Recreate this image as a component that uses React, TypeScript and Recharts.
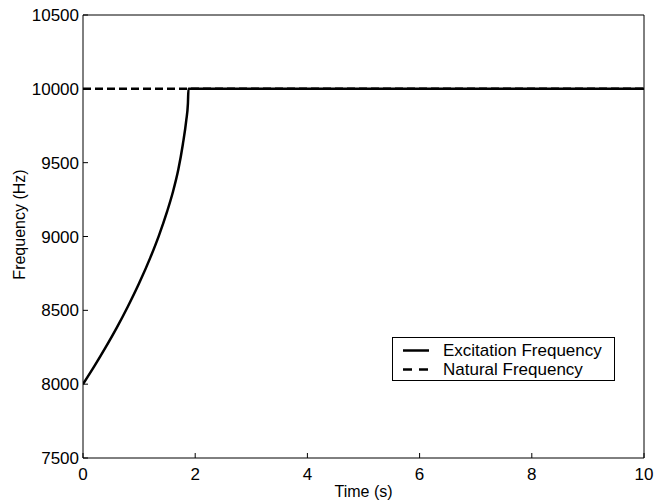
import React from 'react';
import { LineChart, Line, XAxis, YAxis, Legend } from 'recharts';

const excitationTime = [0, 0.2, 0.4, 0.6, 0.8, 1.0, 1.2, 1.35, 1.5, 1.6, 1.7, 1.78, 1.84, 1.87, 1.88, 10];
const excitationFreq = [8000, 8120, 8247, 8381, 8526, 8683, 8857, 9003, 9170, 9298, 9455, 9625, 9785, 9900, 10000, 10000];
const naturalTime = [0, 10];
const naturalFreq = [10000, 10000];
const xTicks = [0, 2, 4, 6, 8, 10];
const yTicks = [7500, 8000, 8500, 9000, 9500, 10000, 10500];

const excitationData = excitationTime.map((t, i) => ({ t, f: excitationFreq[i] }));
const naturalData = naturalTime.map((t, i) => ({ t, f: naturalFreq[i] }));

const FONT = '"Liberation Sans", Arial, Helvetica, sans-serif';
const tickStyle = { fontSize: 17, fill: '#000', fontFamily: FONT };

const YLabel = (props: any) => {
  const vb = props.viewBox || { x: 0, y: 0, width: 0, height: 0 };
  const cx = vb.x + 19;
  const cy = vb.y + vb.height / 2 - 12;
  return (
    <text
      x={cx}
      y={cy}
      transform={`rotate(-90 ${cx} ${cy})`}
      textAnchor="middle"
      dominantBaseline="central"
      fontSize={16}
      fontFamily={FONT}
      fill="#000"
    >
      {props.value}
    </text>
  );
};

const LegendContent = (props: any) => {
  const payload = props.payload || [];
  return (
    <div
      style={{
        width: 223,
        height: 44,
        boxSizing: 'border-box',
        border: '1px solid #000',
        background: '#fff',
        paddingTop: 3,
      }}
    >
      {payload.map((p: any, i: number) => (
        <div key={i} style={{ display: 'flex', alignItems: 'center', height: 19 }}>
          <svg width={50} height={19} style={{ display: 'block' }}>
            <line
              x1={10}
              x2={36}
              y1={9.5}
              y2={9.5}
              stroke="#000"
              strokeWidth={2.5}
              strokeDasharray={p.payload && p.payload.strokeDasharray ? '9 7' : undefined}
            />
          </svg>
          <span style={{ fontSize: 17, fontFamily: FONT, color: '#000', lineHeight: '19px' }}>{p.value}</span>
        </div>
      ))}
    </div>
  );
};

export default function App() {
  return (
    <div style={{ position: 'absolute', left: 0, top: 0, width: 661, height: 502, background: '#fff' }}>
      <LineChart width={661} height={502} margin={{ top: 14, right: 16, left: 0, bottom: 0 }}>
        <XAxis
          dataKey="t"
          type="number"
          domain={[0, 10]}
          ticks={xTicks}
          allowDataOverflow
          height={44}
          tick={tickStyle}
          tickSize={-5}
          tickMargin={15}
          axisLine={{ stroke: '#000', strokeWidth: 1 }}
          tickLine={{ stroke: '#000', strokeWidth: 1 }}
          label={{ value: 'Time (s)', position: 'insideBottom', offset: 5, fontSize: 16, fontFamily: FONT, fill: '#000' }}
        />
        <XAxis
          xAxisId="top"
          orientation="top"
          dataKey="t"
          type="number"
          domain={[0, 10]}
          ticks={xTicks}
          allowDataOverflow
          height={1}
          tick={false}
          tickSize={-5}
          axisLine={{ stroke: '#000', strokeWidth: 1 }}
          tickLine={{ stroke: '#000', strokeWidth: 1 }}
        />
        <YAxis
          dataKey="f"
          type="number"
          domain={[7500, 10500]}
          ticks={yTicks}
          allowDataOverflow
          width={83}
          tick={tickStyle}
          tickSize={-5}
          tickMargin={9}
          axisLine={{ stroke: '#000', strokeWidth: 1 }}
          tickLine={{ stroke: '#000', strokeWidth: 1 }}
          label={{ value: 'Frequency (Hz)', content: YLabel }}
        />
        <YAxis
          yAxisId="right"
          orientation="right"
          dataKey="f"
          type="number"
          domain={[7500, 10500]}
          ticks={yTicks}
          allowDataOverflow
          width={1}
          tick={false}
          tickSize={-5}
          axisLine={{ stroke: '#000', strokeWidth: 1 }}
          tickLine={{ stroke: '#000', strokeWidth: 1 }}
        />
        <Line
          data={excitationData}
          dataKey="f"
          name="Excitation Frequency"
          type="monotone"
          stroke="#000"
          strokeWidth={2.5}
          dot={false}
          activeDot={false}
          isAnimationActive={false}
        />
        <Line
          data={naturalData}
          dataKey="f"
          name="Natural Frequency"
          type="linear"
          stroke="#000"
          strokeWidth={2.5}
          strokeDasharray="8 4"
          dot={false}
          activeDot={false}
          isAnimationActive={false}
        />
        <Legend
          layout="vertical"
          align="center"
          verticalAlign="middle"
          content={<LegendContent />}
          wrapperStyle={{ position: 'absolute', left: 392, top: 337, width: 223, height: 44 }}
        />
      </LineChart>
    </div>
  );
}
